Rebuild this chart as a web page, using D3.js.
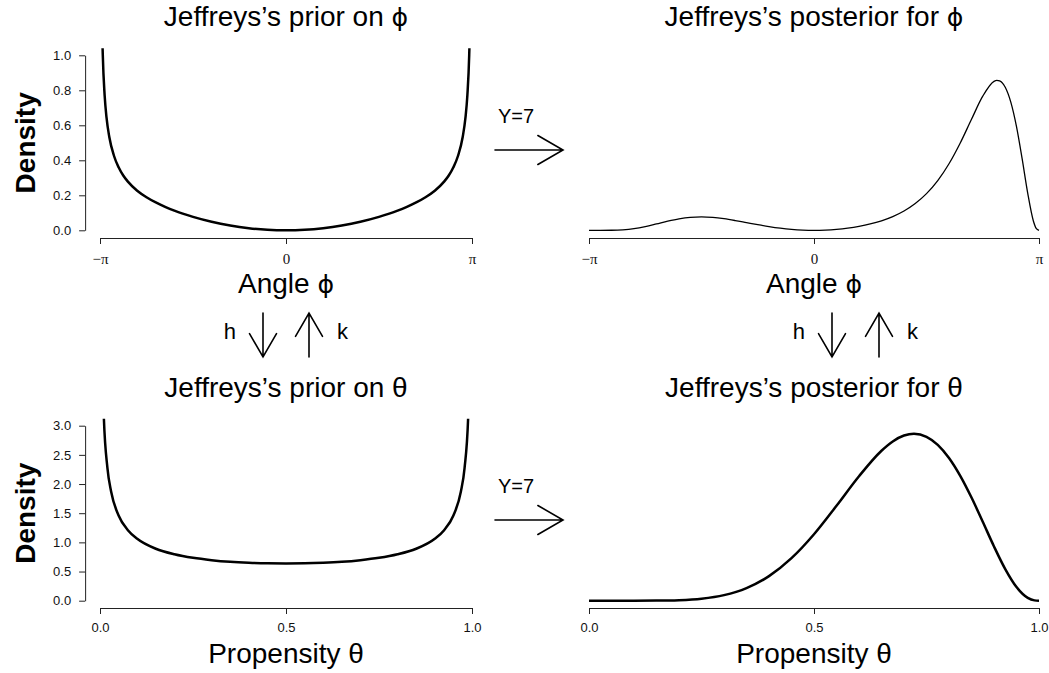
<!DOCTYPE html>
<html>
<head>
<meta charset="utf-8">
<script src="https://cdn.jsdelivr.net/npm/d3@7"></script>
<style>
  html, body { margin: 0; padding: 0; background: #fff; }
  svg { display: block; font-family: "Liberation Sans", Arial, Helvetica, sans-serif; }
</style>
</head>
<body>
<svg id="chart" width="1049" height="673"></svg>
<script>
// Angle phi in units of pi, with Jeffreys's prior density on phi
const phiPriorAngle = [-0.999, -0.995, -0.99, -0.985, -0.975, -0.965, -0.95, -0.925, -0.9, -0.875, -0.85, -0.8, -0.75, -0.7, -0.65, -0.6, -0.5, -0.4, -0.3, -0.2, -0.1, 0,
  0.1, 0.2, 0.3, 0.4, 0.5, 0.6, 0.65, 0.7, 0.75, 0.8, 0.85, 0.875, 0.9, 0.925, 0.95, 0.965, 0.975, 0.985, 0.99, 0.995, 0.999];
const phiPriorDensity = [3.92, 1.748, 1.232, 1.002, 0.770, 0.645, 0.533, 0.426, 0.360, 0.313, 0.278, 0.226, 0.189, 0.159, 0.134, 0.112, 0.0766, 0.0487, 0.0274, 0.0122, 0.0030, 0,
  0.0030, 0.0122, 0.0274, 0.0487, 0.0766, 0.112, 0.134, 0.159, 0.189, 0.226, 0.278, 0.313, 0.360, 0.426, 0.533, 0.645, 0.770, 1.002, 1.232, 1.748, 3.92];

// Posterior for phi after Y = 7
const phiPostAngle = [-1, -0.95, -0.9, -0.85, -0.8, -0.75, -0.7, -0.65, -0.6, -0.55, -0.5, -0.45, -0.4, -0.35, -0.3, -0.25, -0.2, -0.15, -0.1, -0.05, 0,
  0.05, 0.1, 0.15, 0.2, 0.25, 0.3, 0.35, 0.4, 0.45, 0.5, 0.55, 0.6, 0.65, 0.7, 0.75, 0.8, 0.8125, 0.825, 0.85, 0.875, 0.9, 0.925, 0.95, 0.975, 0.9875, 1];
const phiPostDensity = [0, 0.00001, 0.00036, 0.00267, 0.00923, 0.02095, 0.03633, 0.05233, 0.06568, 0.07410, 0.07666, 0.07364, 0.06614, 0.05568, 0.04381, 0.03191, 0.02107, 0.01208, 0.00543, 0.00136, 0,
  0.00136, 0.00546, 0.01241, 0.02247, 0.03616, 0.05438, 0.07848, 0.11044, 0.15299, 0.20949, 0.28396, 0.38007, 0.49887, 0.63434, 0.76643, 0.85119, 0.85703, 0.85416, 0.81720, 0.73073, 0.59199, 0.40913, 0.21110, 0.05316, 0.01123, 0];

// Propensity theta with Jeffreys's prior density on theta
const thetaPriorValue = [0.001, 0.005, 0.01, 0.02, 0.03, 0.05, 0.075, 0.1, 0.15, 0.2, 0.25, 0.3, 0.35, 0.4, 0.45, 0.5,
  0.55, 0.6, 0.65, 0.7, 0.75, 0.8, 0.85, 0.9, 0.925, 0.95, 0.97, 0.98, 0.99, 0.995, 0.999];
const thetaPriorDensity = [10.07, 4.513, 3.199, 2.274, 1.866, 1.461, 1.209, 1.061, 0.891, 0.796, 0.735, 0.695, 0.667, 0.650, 0.640, 0.637,
  0.640, 0.650, 0.667, 0.695, 0.735, 0.796, 0.891, 1.061, 1.209, 1.461, 1.866, 2.274, 3.199, 4.513, 10.07];

// Posterior for theta after Y = 7
const thetaPostValue = [0, 0.05, 0.1, 0.15, 0.2, 0.25, 0.3, 0.35, 0.4, 0.45, 0.5, 0.55, 0.6, 0.65, 0.675, 0.7, 0.7222, 0.75, 0.775, 0.8, 0.825, 0.85, 0.875, 0.9, 0.925, 0.95, 0.975, 0.99, 1];
const thetaPostDensity = [0, 0.000002, 0.00014, 0.0017, 0.0096, 0.0347, 0.0955, 0.2162, 0.4215, 0.7292, 1.1396, 1.6271, 2.1338, 2.5712, 2.7303, 2.8312, 2.862, 2.8105, 2.6727, 2.4473, 2.1408, 1.768, 1.3532, 0.9303, 0.5415, 0.2337, 0.0489, 0.0055, 0];

// Axis ticks
const angleTicks = [-1, 0, 1];
const angleTickLabels = ["\u2212\u03C0", "0", "\u03C0"];
const thetaTicks = [0, 0.5, 1];
const thetaTickLabels = ["0.0", "0.5", "1.0"];
const phiDensityTicks = [0, 0.2, 0.4, 0.6, 0.8, 1.0];
const thetaDensityTicks = [0, 0.5, 1.0, 1.5, 2.0, 2.5, 3.0];

const PHI = "\u03D5";   // stroked phi glyph
const THETA = "\u03B8";

const svg = d3.select("#chart");
const defs = svg.append("defs");

// panel layout (in pixels)
const cols = [{ x0: 100, x1: 472 }, { x0: 589, x1: 1039 }];
const rows = [{ top: 55.3, base: 230.3, axisY: 238 }, { top: 425.7, base: 600.7, axisY: 608 }];

// text with a trailing Greek symbol drawn in a font that has the stroked phi
function labelText(sel, main, sym) {
  sel.append("tspan").text(main);
  sel.append("tspan").attr("font-family", sym === PHI ? "'DejaVu Sans', sans-serif" : null)
    .attr("font-size", sym === PHI ? "0.9em" : null).text(sym);
}

function panel(opts) {
  const c = cols[opts.col], r = rows[opts.row];
  const x = d3.scaleLinear().domain(opts.xDomain).range([c.x0, c.x1]);
  const y = d3.scaleLinear().domain(opts.yDomain).range([r.base, r.top]);
  const xPad = 0.04 * (opts.xDomain[1] - opts.xDomain[0]);
  const yPad = 0.04 * (opts.yDomain[1] - opts.yDomain[0]);
  const id = "clip" + opts.col + opts.row;
  defs.append("clipPath").attr("id", id).append("rect")
    .attr("x", x(opts.xDomain[0] - xPad))
    .attr("y", y(opts.yDomain[1] + yPad))
    .attr("width", x(opts.xDomain[1] + xPad) - x(opts.xDomain[0] - xPad))
    .attr("height", y(opts.yDomain[0] - yPad) - y(opts.yDomain[1] + yPad));

  const g = svg.append("g");
  const pts = opts.xs.map((v, i) => [v, opts.ys[i]]);
  g.append("path")
    .attr("clip-path", `url(#${id})`)
    .attr("d", d3.line().x(d => x(d[0])).y(d => y(d[1])).curve(d3.curveMonotoneX)(pts))
    .attr("fill", "none").attr("stroke", "#000")
    .attr("stroke-width", opts.lw).attr("stroke-linejoin", "round");

  // x axis
  const xa = g.append("g").attr("transform", `translate(0,${r.axisY})`)
    .call(d3.axisBottom(x).tickValues(opts.xTicks)
      .tickFormat((d, i) => opts.xTickLabels[i]).tickSize(6).tickSizeOuter(0).tickPadding(9));
  styleAxis(xa);
  if (opts.serifTicks) xa.selectAll("text").attr("font-family", "'Liberation Serif', 'Times New Roman', serif").attr("font-size", 15);

  // y axis
  if (opts.yTicks) {
    const ya = g.append("g").attr("transform", `translate(${x(opts.xDomain[0] - xPad)},0)`)
      .call(d3.axisLeft(y).tickValues(opts.yTicks).tickFormat(d3.format(".1f"))
        .tickSize(6).tickSizeOuter(0).tickPadding(8));
    styleAxis(ya);
    svg.append("text")
      .attr("transform", `translate(35,${(r.top + r.base) / 2}) rotate(-90)`)
      .attr("text-anchor", "middle").attr("font-size", 28).attr("font-weight", "bold")
      .text("Density");
  }

  // title and x label
  const cx = (c.x0 + c.x1) / 2;
  svg.append("text").attr("x", cx).attr("y", r.top - 29).attr("text-anchor", "middle")
    .attr("font-size", 28).call(labelText, opts.title, opts.sym);
  svg.append("text").attr("x", cx).attr("y", r.axisY + 55).attr("text-anchor", "middle")
    .attr("font-size", 28).call(labelText, opts.xLabel, opts.sym);
}

function styleAxis(a) {
  a.selectAll(".domain").attr("stroke", "#222").attr("stroke-width", 1);
  a.selectAll(".tick line").attr("stroke", "#222").attr("stroke-width", 1);
  a.selectAll("text").attr("font-size", 13).attr("fill", "#111")
    .attr("font-family", "'Liberation Sans', Arial, sans-serif");
}

panel({ col: 0, row: 0, xDomain: [-1, 1], yDomain: [0, 1], xs: phiPriorAngle, ys: phiPriorDensity, lw: 2.5,
  xTicks: angleTicks, xTickLabels: angleTickLabels, serifTicks: true, yTicks: phiDensityTicks,
  title: "Jeffreys\u2019s prior on ", xLabel: "Angle ", sym: PHI });
panel({ col: 1, row: 0, xDomain: [-1, 1], yDomain: [0, 1], xs: phiPostAngle, ys: phiPostDensity, lw: 1.3,
  xTicks: angleTicks, xTickLabels: angleTickLabels, serifTicks: true,
  title: "Jeffreys\u2019s posterior for ", xLabel: "Angle ", sym: PHI });
panel({ col: 0, row: 1, xDomain: [0, 1], yDomain: [0, 3], xs: thetaPriorValue, ys: thetaPriorDensity, lw: 2.5,
  xTicks: thetaTicks, xTickLabels: thetaTickLabels, yTicks: thetaDensityTicks,
  title: "Jeffreys\u2019s prior on ", xLabel: "Propensity ", sym: THETA });
panel({ col: 1, row: 1, xDomain: [0, 1], yDomain: [0, 3], xs: thetaPostValue, ys: thetaPostDensity, lw: 2.5,
  xTicks: thetaTicks, xTickLabels: thetaTickLabels,
  title: "Jeffreys\u2019s posterior for ", xLabel: "Propensity ", sym: THETA });

// annotation arrows: data update (Y=7) and the maps h and k between phi and theta
const arrowG = svg.append("g").attr("stroke", "#000").attr("stroke-width", 1.6).attr("fill", "none")
  .attr("stroke-linecap", "round");

function arrow(x1, y1, x2, y2, len) {
  const a = Math.atan2(y2 - y1, x2 - x1);
  const spread = Math.PI / 6;
  const p1 = [x2 - len * Math.cos(a - spread), y2 - len * Math.sin(a - spread)];
  const p2 = [x2 - len * Math.cos(a + spread), y2 - len * Math.sin(a + spread)];
  arrowG.append("path").attr("d", `M${x1},${y1}L${x2},${y2}M${p1[0]},${p1[1]}L${x2},${y2}L${p2[0]},${p2[1]}`);
}

[150, 520].forEach(yy => {
  arrow(495, yy, 563, yy, 29);
  svg.append("text").attr("x", 516).attr("y", yy - 27).attr("text-anchor", "middle")
    .attr("font-size", 20).text("Y=7");
});

[[263, 309], [832, 879]].forEach(([dx, ux]) => {
  arrow(dx, 313, dx, 357, 27);
  arrow(ux, 357, ux, 313, 27);
  svg.append("text").attr("x", dx - 27).attr("y", 339).attr("text-anchor", "end")
    .attr("font-size", 22).text("h");
  svg.append("text").attr("x", ux + 28).attr("y", 339).attr("text-anchor", "start")
    .attr("font-size", 22).text("k");
});
</script>
</body>
</html>
